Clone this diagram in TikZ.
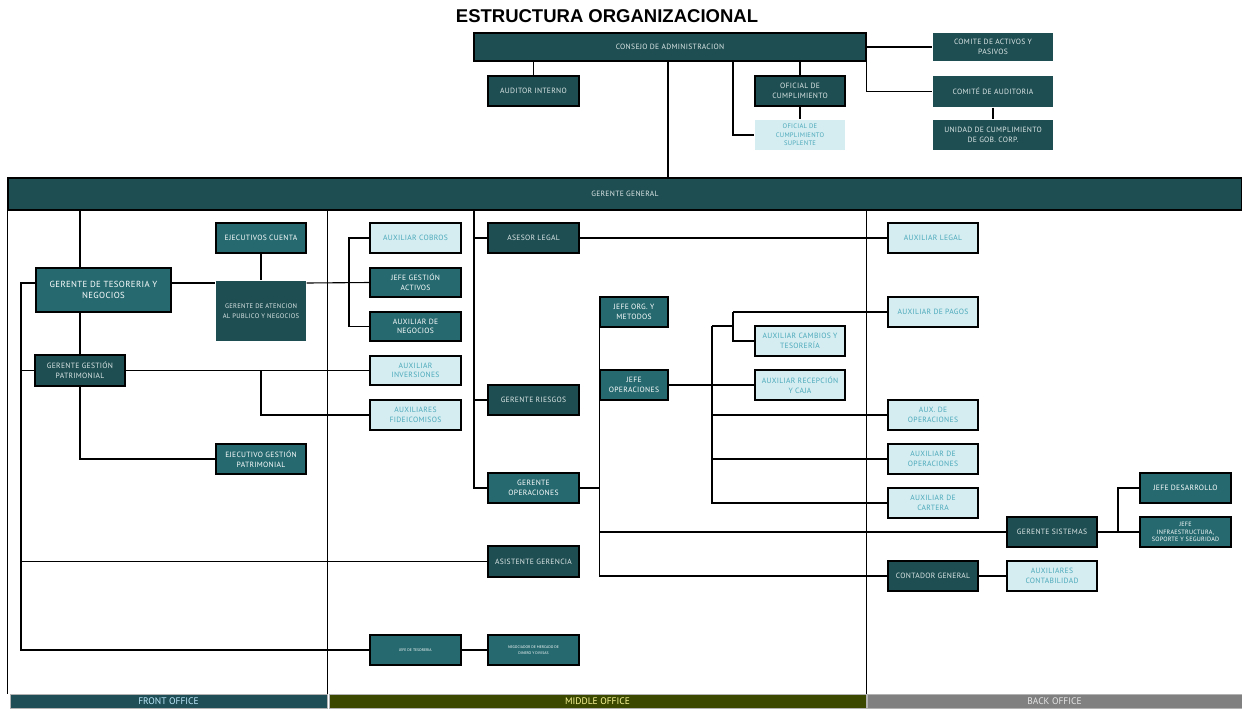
\documentclass[tikz,border=0pt]{standalone}
\usepackage{fontspec}
\setmainfont{PT Sans}
\newfontfamily\boxfont[LetterSpace=4]{PT Sans}
\newfontfamily\titlefont{Liberation Sans}
\definecolor{cdk}{HTML}{1F4E52}
\definecolor{cmd}{HTML}{266A70}
\definecolor{clt}{HTML}{D5EDF1}
\definecolor{cltt}{HTML}{4AA8BA}
\definecolor{ctx}{HTML}{DDE8E8}
\definecolor{cfo}{HTML}{1F4E57}
\definecolor{cmo}{HTML}{3A4800}
\definecolor{cbo}{HTML}{808080}
\tikzset{
  bx/.style={draw=black, line width=1.1pt, inner sep=1pt, align=center, font=\boxfont\fontsize{7.6}{9.6}\selectfont},
  dk/.style={bx, fill=cdk, text=ctx},
  md/.style={bx, fill=cmd, text=white},
  lt/.style={bx, fill=clt, text=cltt},
  ln/.style={line width=1.1pt, draw=black},
  bar/.style={draw=gray!60, line width=0.6pt, inner sep=0pt, font=\fontsize{9.5}{10}\selectfont},
}
\newcommand\obox[7]{\node[#6, minimum width={(#4-#2)*1pt}, minimum height={(#5-#3)*1pt}] (#1) at ({(#2+#4)/2},{(#3+#5)/2}) {#7};}
\begin{document}
\begin{tikzpicture}[x=1pt,y=-1pt]
\useasboundingbox (0,0) rectangle (1242,710);
\node[font=\titlefont\bfseries\fontsize{18.5}{20}\selectfont, inner sep=0pt] (title) at (607,16) {ESTRUCTURA ORGANIZACIONAL};
% junction coordinates
\coordinate (j1) at (733,0);
\coordinate (jl) at (21,0);
\coordinate (jb) at (349,0);
\coordinate (jm) at (474,0);
\coordinate (jr) at (712,0);
\coordinate (jq) at (733,326);
\coordinate (jd) at (1118,0);
\coordinate (ya) at (0,283);
% bars
\node[bar, fill=cfo, text=cyan!25, minimum width=317pt, minimum height=14pt] (fo) at (168.5,701) {FRONT OFFICE};
\node[bar, fill=cmo, text=yellow!40, minimum width=537pt, minimum height=14pt] (mo) at (597.5,701) {MIDDLE OFFICE};
\node[bar, fill=cbo, text=gray!20, minimum width=375pt, minimum height=14pt] (bo) at (1054.5,701) {BACK OFFICE};
% top boxes
\obox{cons}{474}{33}{866}{61}{dk}{CONSEJO DE ADMINISTRACION}
\obox{aud}{488}{76}{579}{106}{dk}{AUDITOR INTERNO}
\obox{ofc}{755}{76}{845}{106}{dk}{OFICIAL DE\\CUMPLIMIENTO}
\obox{ofs}{755}{120}{845}{150}{lt,draw=none,font=\boxfont\fontsize{6.6}{8.4}\selectfont}{OFICIAL DE\\CUMPLIMIENTO\\SUPLENTE}
\obox{cap}{933}{33}{1053}{61}{dk,draw=none}{COMITE DE ACTIVOS Y\\PASIVOS}
\obox{cau}{933}{76}{1053}{107}{dk,draw=none}{COMITÉ DE AUDITORIA}
\obox{ucg}{933}{120}{1053}{150}{dk,draw=none}{UNIDAD DE CUMPLIMIENTO\\DE GOB. CORP.}
\obox{gg}{8}{178}{1242}{210}{dk}{GERENTE GENERAL}
% lines (drawn before lower boxes)
\draw[ln] (aud.north) -- (aud.north |- cons.south);
\draw[ln] (ofc.north) -- (ofc.north |- cons.south);
\draw[ln] (ofc.south) -- (ofs.north);
\draw[ln] (cons.south -| j1) |- (ofs.west);
\draw[ln] ([xshift=-2pt]cons.south) -- ([xshift=-2pt]cons.south |- gg.north);
\draw[ln] (cons.east) -- (cap.west);
\draw[ln] (cons.south east) |- (cau.west);
\draw[ln] (cau.south) -- (ucg.north);
\draw[ln] (gg.south west) -- (gg.south west |- fo.north);
\draw[ln] (fo.north east |- gg.south) -- (fo.north east);
\draw[ln] (mo.north east |- gg.south) -- (mo.north east);
% front office boxes
\obox{gtn}{36}{268}{171}{312}{md,font=\boxfont\fontsize{8.8}{11}\selectfont}{GERENTE DE TESORERIA Y\\NEGOCIOS}
\obox{ejc}{216}{223}{306}{253}{md}{EJECUTIVOS CUENTA}
\obox{gap}{216}{281}{306}{341}{dk,draw=none,font=\boxfont\fontsize{6.6}{10.5}\selectfont}{GERENTE DE ATENCION\\AL PUBLICO Y NEGOCIOS}
\obox{ggp}{35}{355}{125}{386}{dk}{GERENTE GESTIÓN\\PATRIMONIAL}
\obox{egp}{216}{444}{306}{474}{md}{EJECUTIVO GESTIÓN\\PATRIMONIAL}
% middle office boxes
\obox{axc}{370}{223}{461}{253}{lt}{AUXILIAR COBROS}
\obox{jga}{370}{268}{461}{297}{md}{JEFE GESTIÓN\\ACTIVOS}
\obox{axn}{370}{312}{461}{341}{md}{AUXILIAR DE\\NEGOCIOS}
\obox{axi}{370}{356}{461}{385}{lt}{AUXILIAR\\INVERSIONES}
\obox{axf}{370}{400}{461}{430}{lt}{AUXILIARES\\FIDEICOMISOS}
\obox{asl}{488}{223}{579}{253}{dk}{ASESOR LEGAL}
\obox{grs}{488}{385}{579}{415}{dk}{GERENTE RIESGOS}
\obox{gop}{488}{473}{579}{503}{md}{GERENTE\\OPERACIONES}
\obox{asg}{488}{546}{579}{577}{dk}{ASISTENTE GERENCIA}
\obox{jtes}{370}{635}{461}{665}{md,font=\fontsize{3.8}{5}\selectfont}{JEFE DE TESORERIA}
\obox{neg}{488}{635}{579}{665}{md,font=\fontsize{3.8}{6.5}\selectfont}{NEGOCIADOR DE MERCADO DE\\DINERO Y DIVISAS}
\obox{jom}{600}{297}{668}{327}{md}{JEFE ORG. Y\\METODOS}
\obox{jop}{600}{370}{668}{400}{md}{JEFE\\OPERACIONES}
\obox{acm}{755}{326}{845}{356}{lt}{AUXILIAR CAMBIOS Y\\TESORERÍA}
\obox{arc}{755}{370}{845}{400}{lt}{AUXILIAR RECEPCIÓN\\Y CAJA}
% back office boxes
\obox{axl}{888}{223}{978}{253}{lt}{AUXILIAR LEGAL}
\obox{axp}{888}{297}{978}{327}{lt}{AUXILIAR DE PAGOS}
\obox{aop1}{888}{400}{978}{430}{lt}{AUX. DE\\OPERACIONES}
\obox{aop2}{888}{444}{978}{474}{lt}{AUXILIAR DE\\OPERACIONES}
\obox{acar}{888}{488}{978}{518}{lt}{AUXILIAR DE\\CARTERA}
\obox{gsi}{1007}{517}{1097}{547}{dk}{GERENTE SISTEMAS}
\obox{jdes}{1140}{473}{1231}{503}{md}{JEFE DESARROLLO}
\obox{jinf}{1140}{517}{1231}{547}{md,font=\boxfont\fontsize{6.2}{7.6}\selectfont}{JEFE\\INFRAESTRUCTURA,\\SOPORTE Y SEGURIDAD}
\obox{ctg}{888}{561}{978}{591}{dk}{CONTADOR GENERAL}
\obox{acon}{1007}{561}{1097}{591}{lt}{AUXILIARES\\CONTABILIDAD}
% front office connectors
\draw[ln] (ggp.north |- gg.south) -- (ggp.north |- gtn.north);
\draw[ln] (ggp.north |- gtn.south) -- (ggp.north);
\draw[ln] (gtn.west |- ya) -- (jl |- ya) -- (jl |- jtes.west) -- (jtes.west);
\draw[ln] (jl |- ggp.west) -- (ggp.west);
\draw[ln] (jl |- asg.west) -- (asg.west);
\draw[ln] (gtn.east |- ya) -- (gap.north west |- ya);
\draw[ln] (gap.north east |- ya) -- (jga.west);
\draw[ln] (ejc.south) -- (gap.north);
\draw[ln] (ggp.south) |- (egp.west);
\draw[ln] (ggp.east) -- (axi.west);
\draw[ln] (ggp.east -| gap.south) |- (axf.west);
% middle office connectors
\draw[ln] (axc.west) -- (axc.west -| jb) -- (axn.west -| jb) -- (axn.west);
\draw[ln] (jm |- gg.south) |- (gop.west);
\draw[ln] (jm |- asl.west) -- (asl.west);
\draw[ln] (jm |- grs.west) -- (grs.west);
\draw[ln] (asl.east) -- (axl.west);
\draw[ln] (jtes.east) -- (neg.west);
\draw[ln] (jom.south west) -- (jom.south west |- ctg.west) -- (ctg.west);
\draw[ln] (gop.east) -- (gop.east -| jom.west);
\draw[ln] (jom.west |- gsi.west) -- (gsi.west);
\draw[ln] (jop.east) -- (arc.west);
\draw[ln] (jr |- jq) -- (jq);
\draw[ln] (axp.west -| jq) -- (axp.west);
\draw[ln] (axp.west -| jq) |- (acm.west);
\draw[ln] (jr |- jq) -- (jr |- acar.west) -- (acar.west);
\draw[ln] (jr |- aop1.west) -- (aop1.west);
\draw[ln] (jr |- aop2.west) -- (aop2.west);
% back office connectors
\draw[ln] (gsi.east) -- (jinf.west);
\draw[ln] (jd |- gsi.east) |- (jdes.west);
\draw[ln] (ctg.east) -- (acon.west);
\end{tikzpicture}
\end{document}
